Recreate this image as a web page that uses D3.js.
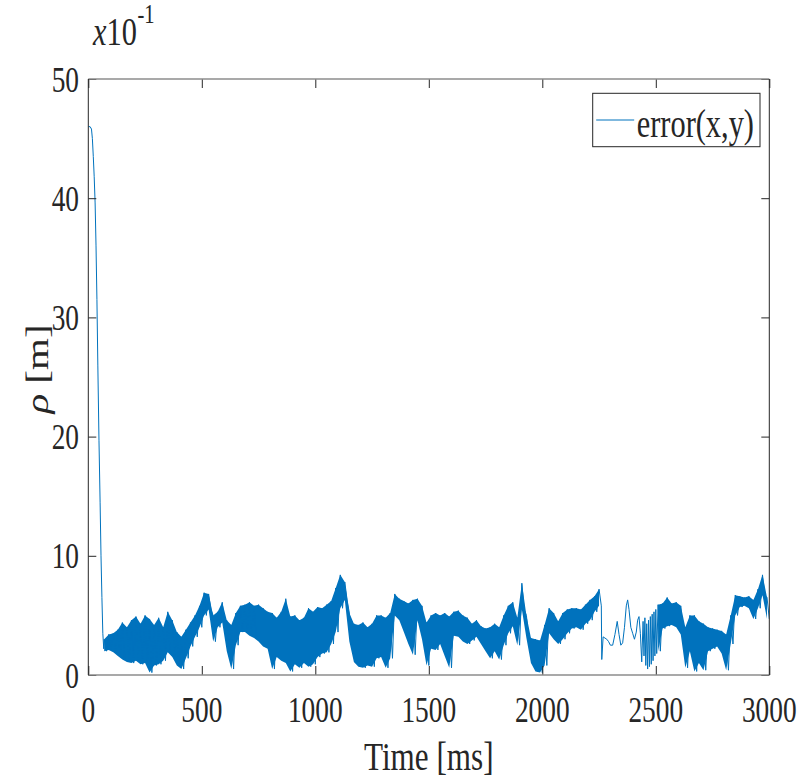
<!DOCTYPE html>
<html lang="en">
<head>
<meta charset="UTF-8">
<title>Error rho over time</title>
<script src="https://d3js.org/d3.v7.min.js"></script>
<style>
    body { margin: 0; background: #fff; }
    text { font-family: "Liberation Serif", "Times New Roman", serif; fill: #262626; }
</style>
</head>
<body>
<svg id="svg" width="798" height="780"></svg>
<script>
    // tick values
    const xTicks = [0, 500, 1000, 1500, 2000, 2500, 3000];
    const yTicks = [0, 10, 20, 30, 40, 50];

    // start of the run: the fast drop from ~46
    const dropTime = [0, 8, 14, 18, 22, 26, 30, 34, 38, 42, 47, 52, 56, 60, 64, 68];
    const dropRho = [46, 46, 45.8, 45, 43.5, 41.8, 39.6, 36, 31.5, 26, 19.7, 14.5, 10, 6.5, 3.5, 2.2];

    // noisy part 1, read as high/low envelope every 20 ms
    const bandTime = [70, 90, 110, 130, 150, 170, 190, 210, 230, 250, 270, 290, 310, 330, 350, 370, 390, 410, 430, 450,
        470, 490, 510, 530, 550, 570, 590, 610, 630, 650, 670, 690, 710, 730, 750, 770, 790, 810, 830, 850,
        870, 890, 910, 930, 950, 970, 990, 1010, 1030, 1050, 1070, 1090, 1110, 1130, 1150, 1170, 1190, 1210, 1230, 1250,
        1270, 1290, 1310, 1330, 1350, 1370, 1390, 1410, 1430, 1450, 1470, 1490, 1510, 1530, 1550, 1570, 1590, 1610, 1630, 1650,
        1670, 1690, 1710, 1730, 1750, 1770, 1790, 1810, 1830, 1850, 1870, 1890, 1910, 1930, 1950, 1970, 1990, 2010, 2030, 2050,
        2070, 2090, 2110, 2130, 2150, 2170, 2190, 2210, 2230, 2250];
    const bandHigh = [3.0, 3.4, 3.5, 3.8, 4.4, 4.0, 4.6, 4.9, 4.3, 5.0, 4.7, 4.2, 4.8, 4.0, 5.3, 4.6, 3.6, 3.2, 3.8, 4.4,
        5.0, 5.8, 6.9, 6.8, 5.0, 5.3, 6.1, 4.6, 4.2, 5.2, 5.8, 5.9, 6.1, 5.8, 5.9, 5.6, 5.3, 5.2, 4.8, 5.3,
        6.4, 4.9, 5.0, 4.6, 4.8, 5.6, 5.3, 5.7, 5.6, 5.9, 6.2, 7.3, 8.4, 7.8, 5.2, 4.3, 4.2, 4.4, 4.0, 4.3,
        5.0, 5.0, 4.8, 5.2, 6.8, 6.4, 6.2, 6.0, 6.3, 6.4, 5.8, 4.4, 5.0, 5.2, 5.0, 5.2, 4.9, 5.3, 5.4, 5.0,
        4.8, 4.3, 4.6, 4.1, 3.9, 4.0, 4.3, 4.0, 5.0, 5.8, 6.1, 4.8, 7.7, 5.0, 3.1, 3.0, 2.9, 4.2, 5.6, 5.2,
        4.5, 5.2, 5.5, 5.6, 5.6, 5.5, 5.9, 6.3, 6.6, 7.2];
    const bandLow = [2.0, 2.1, 1.9, 1.6, 1.3, 1.1, 1.0, 1.2, 0.9, 1.0, 0.2, 0.8, 0.9, 1.2, 1.9, 1.5, 0.8, 0.5, 1.4, 2.4,
        3.2, 4.0, 5.0, 5.5, 2.8, 4.0, 4.4, 2.0, 0.5, 2.5, 3.6, 3.6, 3.3, 3.1, 2.8, 2.4, 2.2, 0.5, 1.5, 1.2,
        1.0, 0.3, 0.9, 0.6, 1.0, 0.7, 0.9, 1.5, 1.8, 1.9, 2.6, 3.6, 5.6, 6.3, 2.8, 1.1, 0.7, 0.6, 0.8, 0.7,
        1.4, 1.5, 0.6, 1.4, 5.0, 4.6, 3.6, 2.6, 1.7, 4.6, 3.0, 0.8, 2.2, 2.1, 2.6, 1.6, 0.6, 3.3, 3.2, 2.8,
        2.6, 2.9, 3.2, 2.6, 2.0, 1.4, 2.0, 1.3, 2.5, 3.5, 4.1, 2.5, 5.5, 3.1, 1.0, 0.3, 0.2, 0.8, 3.5, 3.0,
        2.6, 3.0, 3.5, 3.9, 4.0, 3.8, 4.3, 4.6, 5.3, 5.8];

    // calmer part around 2250-2500 ms, single line
    const thinTime = [2262, 2268, 2276, 2284, 2292, 2300, 2310, 2320, 2330, 2338, 2346, 2354, 2362, 2370, 2376, 2382,
        2390, 2398, 2406, 2414, 2420, 2426, 2432, 2438, 2444, 2448, 2452, 2456, 2460, 2464, 2468, 2472,
        2476, 2480, 2484, 2488, 2492, 2496, 2500, 2504];
    const thinRho = [1.3, 3.2, 3.1, 3.0, 2.8, 2.5, 2.5, 3.4, 4.5, 3.4, 2.5, 2.7, 4.0, 5.8, 6.3, 5.5,
        4.0, 3.5, 3.0, 3.6, 4.6, 4.9, 3.5, 1.1, 4.5, 1.6, 4.8, 0.8, 4.3, 0.5, 4.6, 0.7,
        4.9, 0.9, 5.1, 1.2, 5.3, 1.6, 5.5, 1.8];

    // noisy part 2
    const band2Time = [2510, 2530, 2550, 2570, 2590, 2610, 2630, 2650, 2670, 2690, 2710, 2730, 2750, 2770, 2790, 2810,
        2830, 2850, 2870, 2890, 2910, 2930, 2950, 2970, 2990];
    const band2High = [5.9, 6.0, 6.5, 6.0, 6.1, 5.8, 4.0, 5.0, 5.0, 4.5, 4.3, 4.0, 3.9, 3.8, 3.7, 3.4,
        5.0, 6.7, 6.6, 6.5, 6.6, 6.3, 7.2, 8.4, 6.5];
    const band2Low = [2.0, 3.9, 4.1, 4.2, 4.0, 3.4, 0.6, 2.0, 0.3, 1.0, 0.4, 2.0, 2.2, 2.4, 1.8, 0.4,
        2.6, 5.0, 5.7, 5.8, 5.6, 4.7, 5.6, 6.7, 4.7];

    const lineColor = "#0072BD";
    const textColor = "#262626";
    const squeeze = 0.76; // the glyphs in the picture are narrow

    const svg = d3.select("#svg");

    const x = d3.scaleLinear().domain([0, 3000]).range([88.3, 769.3]);
    const y = d3.scaleLinear().domain([0, 50]).range([675, 79]);

    svg.append("clipPath").attr("id", "plotClip")
        .append("rect")
        .attr("x", x(0)).attr("y", y(50))
        .attr("width", x(3000) - x(0)).attr("height", y(0) - y(50));

    const plot = svg.append("g").attr("clip-path", "url(#plotClip)");

    // rows for the bands
    const band1 = bandTime.map((t, i) => ({ t: t, hi: bandHigh[i], lo: bandLow[i] }));
    const band2 = band2Time.map((t, i) => ({ t: t, hi: band2High[i], lo: band2Low[i] }));

    // solid body of the noise
    const area = d3.area()
        .x(d => x(d.t))
        .y0(d => y(d.lo))
        .y1(d => y(d.hi));

    [band1, band2].forEach(b => {
        plot.append("path")
            .datum(b)
            .attr("d", area)
            .attr("fill", lineColor);
    });

    // one trace: drop, zigzag through the envelope, thin part, zigzag again
    const trace = [];
    dropTime.forEach((t, i) => trace.push([t, dropRho[i]]));
    band1.forEach(d => { trace.push([d.t, d.hi]); trace.push([d.t + 10, d.lo]); });
    thinTime.forEach((t, i) => trace.push([t, thinRho[i]]));
    band2.forEach(d => { trace.push([d.t, d.hi]); trace.push([d.t + 10, d.lo]); });

    const line = d3.line()
        .x(d => x(d[0]))
        .y(d => y(d[1]));

    plot.append("path")
        .datum(trace)
        .attr("d", line)
        .attr("fill", "none")
        .attr("stroke", lineColor)
        .attr("stroke-width", 1)
        .attr("stroke-linejoin", "round");

    // ticks (inward, on all four sides)
    const tickGroups = [
        svg.append("g").attr("transform", `translate(0,${y(0)})`).call(d3.axisBottom(x).tickValues(xTicks).tickSize(-9)),
        svg.append("g").attr("transform", `translate(0,${y(50)})`).call(d3.axisTop(x).tickValues(xTicks).tickSize(-9)),
        svg.append("g").attr("transform", `translate(${x(0)},0)`).call(d3.axisLeft(y).tickValues(yTicks).tickSize(-8)),
        svg.append("g").attr("transform", `translate(${x(3000)},0)`).call(d3.axisRight(y).tickValues(yTicks).tickSize(-8))
    ];
    tickGroups.forEach(g => {
        g.select(".domain").remove();
        g.selectAll("text").remove();
        g.selectAll("line").attr("stroke", textColor).attr("stroke-width", 1);
    });

    // box
    svg.append("line").attr("x1", x(0)).attr("x2", x(3000)).attr("y1", y(0)).attr("y2", y(0))
        .attr("stroke", "#8c8c8c").attr("stroke-width", 1.4);
    svg.append("line").attr("x1", x(0)).attr("x2", x(3000)).attr("y1", y(50)).attr("y2", y(50))
        .attr("stroke", "#8c8c8c").attr("stroke-width", 1.4);
    svg.append("line").attr("x1", x(0)).attr("x2", x(0)).attr("y1", y(0)).attr("y2", y(50))
        .attr("stroke", textColor).attr("stroke-width", 1);
    svg.append("line").attr("x1", x(3000)).attr("x2", x(3000)).attr("y1", y(0)).attr("y2", y(50))
        .attr("stroke", textColor).attr("stroke-width", 1);

    // tick labels
    svg.selectAll(".xlab")
        .data(xTicks)
        .enter().append("text")
        .attr("class", "xlab")
        .attr("transform", d => `translate(${x(d)},721.5) scale(${squeeze},1)`)
        .attr("text-anchor", "middle")
        .attr("font-size", 36)
        .text(d => d);

    svg.selectAll(".ylab")
        .data(yTicks)
        .enter().append("text")
        .attr("class", "ylab")
        .attr("transform", d => `translate(79,${y(d) + 12.5}) scale(${squeeze},1)`)
        .attr("text-anchor", "end")
        .attr("font-size", 36)
        .text(d => d);

    // axis titles
    svg.append("text")
        .attr("transform", `translate(${(x(0) + x(3000)) / 2},769.5) scale(${squeeze},1)`)
        .attr("text-anchor", "middle")
        .attr("font-size", 41)
        .text("Time [ms]");

    const yTitle = svg.append("text")
        .attr("transform", `translate(48,${(y(0) + y(50)) / 2 - 8}) rotate(-90) scale(1,${squeeze})`)
        .attr("text-anchor", "middle")
        .attr("font-size", 41);
    yTitle.append("tspan").attr("font-style", "italic").text("ρ");
    yTitle.append("tspan").text(" [m]");

    // exponent note
    const expo = svg.append("text")
        .attr("transform", `translate(93,45) scale(${squeeze},1)`)
        .attr("font-size", 40);
    expo.append("tspan").attr("font-style", "italic").text("x");
    expo.append("tspan").text("10");
    svg.append("text")
        .attr("transform", `translate(137.5,23) scale(${squeeze},1)`)
        .attr("font-size", 27)
        .text("-1");

    // legend
    const legend = svg.append("g").attr("transform", "translate(592.7,93.3)");
    legend.append("rect")
        .attr("width", 167.3).attr("height", 53.4)
        .attr("fill", "#fff").attr("stroke", textColor).attr("stroke-width", 1);
    legend.append("line")
        .attr("x1", 3.5).attr("x2", 41.5).attr("y1", 26.7).attr("y2", 26.7)
        .attr("stroke", lineColor).attr("stroke-width", 1);
    legend.append("text")
        .attr("transform", `translate(44,43.5) scale(${squeeze},1)`)
        .attr("font-size", 40)
        .text("error(x,y)");
</script>
</body>
</html>
